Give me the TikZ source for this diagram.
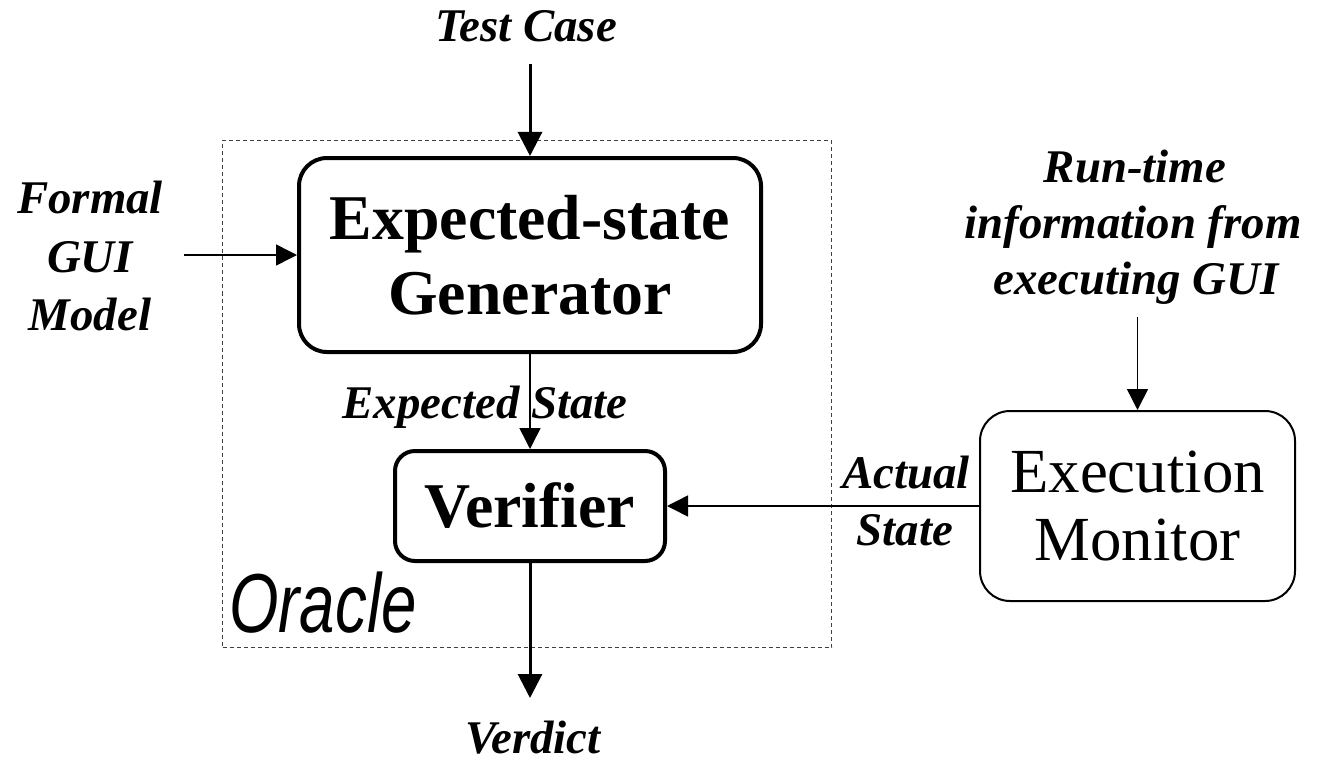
\documentclass[tikz,border=0pt]{standalone}
\usepackage{fontspec}
\setmainfont{Liberation Serif}
\newfontfamily\oraclefont[FakeStretch=0.76]{Liberation Sans}
\usetikzlibrary{arrows.meta}
\begin{document}
\begin{tikzpicture}[x=1bp,y=-1bp,
  lbl/.style={font=\fontsize{47}{58}\selectfont\bfseries\itshape, inner sep=0pt, anchor=base},
  bigbox/.style={draw, line width=4bp, rounded corners=28bp, inner sep=0pt,
    font=\fontsize{64}{75}\selectfont\bfseries, align=center},
  monbox/.style={draw, line width=2bp, rounded corners=30bp, inner sep=0pt,
    font=\fontsize{63}{68}\selectfont, align=center},
  thinarrow/.style={line width=1.5bp, -{Triangle[length=21bp,width=21bp]}},
  thickarrow/.style={line width=3bp, -{Triangle[length=24bp,width=24bp]}},
  oracleline/.style={draw=black!75, line width=1bp, dash pattern=on 4bp off 3bp}
]
\useasboundingbox (0,0) rectangle (1323,759);

% Oracle frame
\node[oracleline, minimum width=609bp, minimum height=507bp, inner sep=0pt] (oracle) at (527,394) {};
\node[font=\fontsize{84}{84}\selectfont\oraclefont\itshape, inner sep=0pt, anchor=base west] (oraclelbl) at (229,632) {Oracle};

% Boxes
\node[bigbox, minimum width=462bp, minimum height=194bp] (gen) at (530,255) {Expected-state\\Generator};
\node[bigbox, rounded corners=20bp, minimum width=270bp, minimum height=110bp] (ver) at (530,506) {Verifier};
\node[monbox, minimum width=315bp, minimum height=190bp] (mon) at (1137.5,506) {Execution\\Monitor};

% Labels
\node[lbl] (tc) at (526,42) {Test Case};
\node[lbl] (fm1) at (90,213) {Formal};
\node[lbl] (fm2) at (90,272) {GUI};
\node[lbl] (fm3) at (90,330) {Model};
\node[lbl] (es) at (485,418) {Expected State};
\node[lbl] (vd) at (533,753) {Verdict};
\node[lbl] (rt1) at (1135,182) {Run-time};
\node[lbl] (rt2) at (1133,238) {information from};
\node[lbl] (rt3) at (1136,294) {executing GUI};
\node[lbl] (as1) at (906,488) {Actual};
\node[lbl] (as2) at (905,545) {State};

% Free ends
\coordinate (tcstart) at (530,64);
\coordinate (fmstart) at (184,255);
\coordinate (vdend) at (530,698);
\coordinate (rtstart) at (1137.5,317);

% Connectors
\draw[thickarrow] (tcstart) -- (gen.north);
\draw[thinarrow] (fmstart) -- (gen.west);
\draw[thinarrow] (gen.south) -- (ver.north);
\draw[thickarrow] (ver.south) -- (vdend);
\draw[thinarrow] (rtstart) -- (mon.north);
\draw[thinarrow] (mon.west) -- (ver.east);
\end{tikzpicture}
\end{document}
